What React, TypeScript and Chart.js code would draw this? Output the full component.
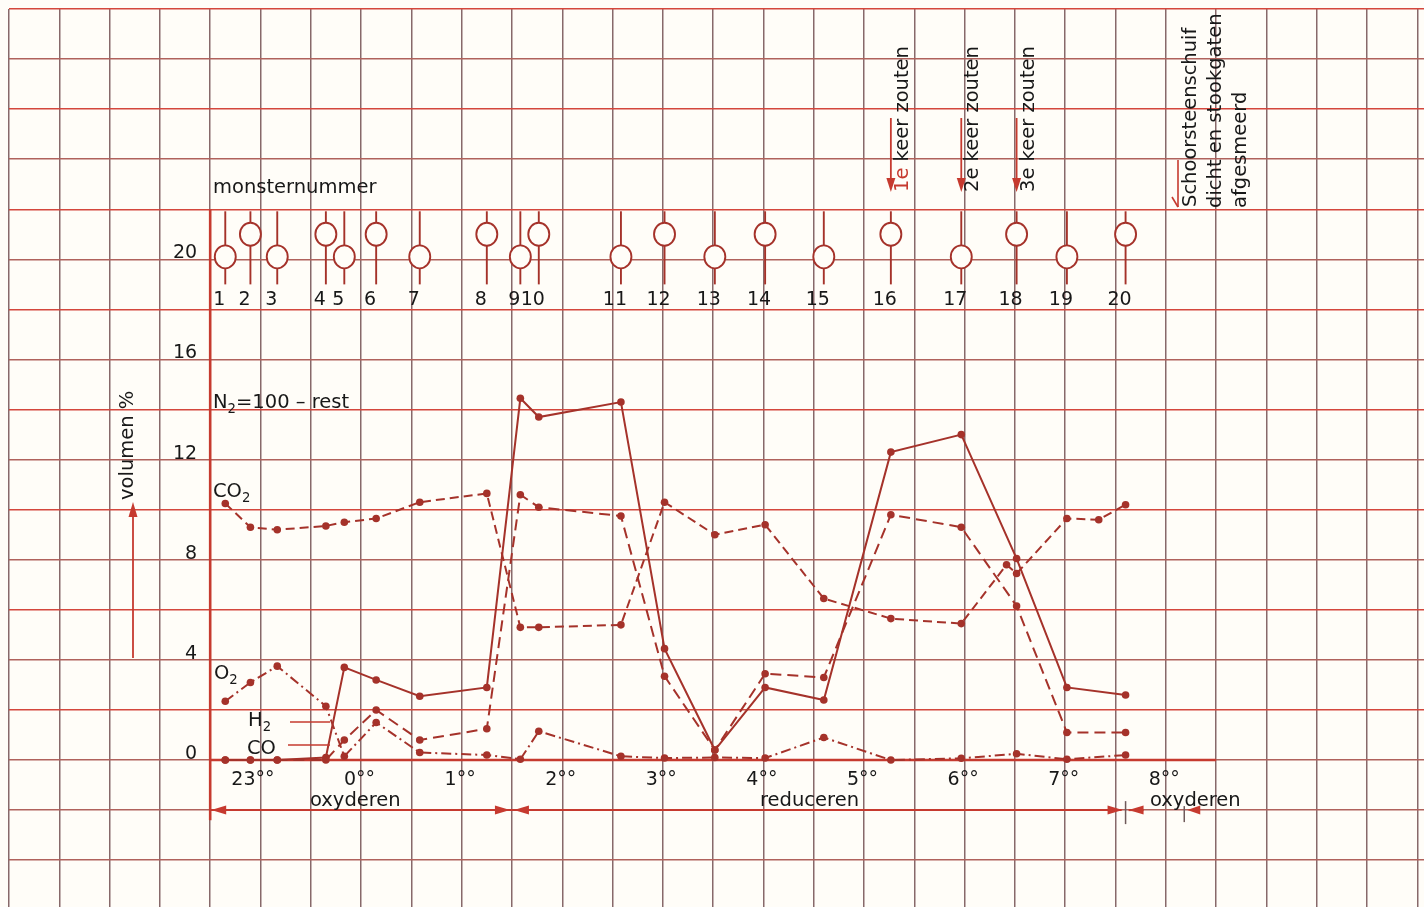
import React, { useEffect, useRef } from 'react';
import { Chart, registerables } from 'chart.js';

Chart.register(...registerables);

// ---- data (time in minutes relative to 0:00, values in volume %) ----
const sampleLabels = ['1', '2', '3', '4', '5', '6', '7', '8', '9', '10', '11', '12', '13', '14', '15', '16', '17', '18', '19', '20'];
const sampleMinutes = [-81, -66, -50, -21, -10, 9, 35, 75, 95, 106, 155, 181, 211, 241, 276, 316, 358, 391, 421, 456];
const sampleRaised = [false, true, false, true, false, true, false, true, false, true, false, true, false, true, false, true, false, true, false, true];

const coValues = [0, 0, 0, 0.1, 3.7, 3.2, 2.55, 2.9, 14.45, 13.7, 14.3, 4.45, 0.4, 2.9, 2.4, 12.3, 13.0, 8.05, 2.9, 2.6];
const h2Values = [0, 0, 0, 0, 0.8, 2.0, 0.8, 1.25, 10.6, 10.1, 9.75, 3.35, 0.4, 3.45, 3.3, 9.8, 9.3, 6.15, 1.1, 1.1];
const o2Values = [2.35, 3.1, 3.75, 2.15, 0.15, 1.5, 0.3, 0.2, 0.03, 1.15, 0.15, 0.08, 0.1, 0.08, 0.9, 0.0, 0.07, 0.25, 0.03, 0.2];
const co2Minutes = [-81, -66, -50, -21, -10, 9, 35, 75, 95, 106, 155, 181, 211, 241, 276, 316, 358, 385, 391, 421, 440, 456];
const co2Values = [10.25, 9.3, 9.2, 9.35, 9.5, 9.65, 10.3, 10.65, 5.3, 5.3, 5.4, 10.3, 9.0, 9.4, 6.45, 5.65, 5.45, 7.8, 7.45, 9.65, 9.6, 10.2];

const hourMinutes = [-60, 0, 60, 120, 180, 240, 300, 360, 420, 480];
const hourLabels = ['23', '0', '1', '2', '3', '4', '5', '6', '7', '8'];
const yTickValues = [0, 4, 8, 12, 16, 20];
const yTickLabels = ['0', '4', '8', '12', '16', '20'];

const saltSamples = [15, 16, 17]; // samples 16, 17, 18
const saltLabels = ['1e', '2e', '3e'];

const LINE = '#a5322a';
const RED = '#c63a2f';
const INK = '#181818';
const PAPER = '#fffdf8';
const FAM = '"DejaVu Sans", "Liberation Sans", sans-serif';
const f = (s: number) => `${s}px ${FAM}`;

function seg(ctx: CanvasRenderingContext2D, x1: number, y1: number, x2: number, y2: number) {
  ctx.beginPath();
  ctx.moveTo(x1, y1);
  ctx.lineTo(x2, y2);
  ctx.stroke();
}

function head(ctx: CanvasRenderingContext2D, tx: number, ty: number, dx: number, dy: number, len: number, half: number) {
  const bx = tx - dx * len, by = ty - dy * len;
  const px = -dy, py = dx;
  ctx.beginPath();
  ctx.moveTo(tx, ty);
  ctx.lineTo(bx + px * half, by + py * half);
  ctx.lineTo(bx - px * half, by - py * half);
  ctx.closePath();
  ctx.fill();
}

function vtext(ctx: CanvasRenderingContext2D, parts: [string, string][], x: number, y: number, size: number) {
  ctx.save();
  ctx.translate(x, y);
  ctx.rotate(-Math.PI / 2);
  ctx.font = f(size);
  ctx.textAlign = 'left';
  ctx.textBaseline = 'alphabetic';
  let off = 0;
  for (const [t, c] of parts) {
    ctx.fillStyle = c;
    ctx.fillText(t, off, 0);
    off += ctx.measureText(t).width;
  }
  ctx.restore();
}

function subText(ctx: CanvasRenderingContext2D, main: string, sub: string, rest: string, x: number, y: number, size: number) {
  ctx.textAlign = 'left';
  ctx.textBaseline = 'alphabetic';
  ctx.fillStyle = INK;
  ctx.font = f(size);
  ctx.fillText(main, x, y);
  let off = ctx.measureText(main).width;
  ctx.font = f(size * 0.68);
  ctx.fillText(sub, x + off, y + 5);
  off += ctx.measureText(sub).width;
  if (rest) {
    ctx.font = f(size);
    ctx.fillText(rest, x + off, y);
  }
}

const annotate = {
  id: 'annotate',
  beforeDraw(chart: any) {
    const { ctx, width, height } = chart;
    ctx.save();
    ctx.fillStyle = PAPER;
    ctx.fillRect(0, 0, width, height);
    ctx.restore();
  },
  beforeDatasetsDraw(chart: any) {
    const { ctx } = chart;
    const xs = chart.scales.x, ys = chart.scales.y;
    const X = (v: number) => xs.getPixelForValue(v);
    const Y = (v: number) => ys.getPixelForValue(v);
    ctx.save();
    ctx.strokeStyle = RED;
    ctx.lineWidth = 2.6;
    seg(ctx, X(-90), Y(0), X(510), Y(0));
    seg(ctx, X(-90), Y(22), X(-90), Y(-2.4));
    ctx.restore();
  },
  afterDatasetsDraw(chart: any) {
    const { ctx } = chart;
    const xs = chart.scales.x, ys = chart.scales.y;
    const X = (v: number) => xs.getPixelForValue(v);
    const Y = (v: number) => ys.getPixelForValue(v);
    ctx.save();

    // y tick labels
    ctx.font = f(19);
    ctx.fillStyle = INK;
    ctx.textAlign = 'right';
    ctx.textBaseline = 'alphabetic';
    yTickValues.forEach((v, i) => ctx.fillText(yTickLabels[i], X(-90) - 13, Y(v) - 1));

    // hour labels
    ctx.textAlign = 'left';
    hourMinutes.forEach((m, i) => {
      const w = ctx.measureText(hourLabels[i]).width;
      ctx.fillText(hourLabels[i] + '°°', X(m) - 5 - w, Y(0) + 25);
    });

    // sample markers
    sampleMinutes.forEach((m, i) => {
      const x = X(m);
      const cy = Y(sampleRaised[i] ? 21 : 20.1);
      ctx.strokeStyle = LINE;
      ctx.lineWidth = 1.9;
      seg(ctx, x, Y(22) + 2, x, cy - 11.5);
      seg(ctx, x, cy + 11.5, x, Y(19));
      ctx.beginPath();
      ctx.ellipse(x, cy, 10.5, 11.5, 0, 0, Math.PI * 2);
      ctx.fillStyle = PAPER;
      ctx.fill();
      ctx.stroke();
      ctx.fillStyle = INK;
      ctx.font = f(19);
      ctx.textAlign = 'center';
      ctx.fillText(sampleLabels[i], x - 6, Y(19) + 21);
    });

    // salting events
    saltSamples.forEach((si, i) => {
      const x = X(sampleMinutes[si]);
      ctx.strokeStyle = RED;
      ctx.fillStyle = RED;
      ctx.lineWidth = 1.8;
      seg(ctx, x, 118, x, 180);
      head(ctx, x, 192, 0, 1, 14, 4.5);
      vtext(ctx, [[saltLabels[i], i === 0 ? RED : INK], [' keer zouten', INK]], x + 17, 192, 19.5);
    });

    // chimney note
    ctx.strokeStyle = RED;
    ctx.lineWidth = 1.6;
    seg(ctx, 1178, 160, 1178, 207);
    seg(ctx, 1172, 197, 1178, 207);
    vtext(ctx, [['Schoorsteenschuif', INK]], 1196, 207, 19.5);
    vtext(ctx, [['dicht en stookgaten', INK]], 1221, 208, 19.5);
    vtext(ctx, [['afgesmeerd', INK]], 1246, 208, 19.5);

    // y axis title + arrow
    vtext(ctx, [['volumen %', INK]], 133, 500, 19.5);
    ctx.strokeStyle = RED;
    ctx.fillStyle = RED;
    ctx.lineWidth = 1.8;
    seg(ctx, 133, 658, 133, 512);
    head(ctx, 133, 502, 0, -1, 15, 4.5);

    // free labels
    ctx.fillStyle = INK;
    ctx.font = f(19.5);
    ctx.textAlign = 'left';
    ctx.fillText('monsternummer', 213, 193);
    subText(ctx, 'N', '2', '=100 – rest', 213, 408, 19.5);
    subText(ctx, 'CO', '2', '', 213, 497, 19.5);
    subText(ctx, 'O', '2', '', 214, 679, 19.5);
    subText(ctx, 'H', '2', '', 248, 726, 19.5);
    ctx.font = f(19.5);
    ctx.fillText('CO', 247, 754);
    ctx.strokeStyle = RED;
    ctx.lineWidth = 1.6;
    seg(ctx, 290, 722, 330, 722);
    seg(ctx, 288, 745, 330, 745);

    // phase arrows
    const ay = Y(-2);
    ctx.strokeStyle = RED;
    ctx.fillStyle = RED;
    ctx.lineWidth = 2;
    seg(ctx, X(-90), ay, X(456) - 4, ay);
    head(ctx, X(-90) + 1, ay, -1, 0, 15, 4.5);
    head(ctx, X(90) - 2, ay, 1, 0, 15, 4.5);
    head(ctx, X(90) + 2, ay, -1, 0, 15, 4.5);
    head(ctx, X(456) - 3, ay, 1, 0, 15, 4.5);
    seg(ctx, X(456) + 3, ay, X(456) + 18, ay);
    head(ctx, X(456) + 3, ay, -1, 0, 15, 4.5);
    head(ctx, X(491) + 3, ay, -1, 0, 13, 4.5);
    ctx.strokeStyle = '#6f5a5a';
    ctx.lineWidth = 1.5;
    seg(ctx, X(456), ay - 9, X(456), ay + 14);
    seg(ctx, X(491), ay - 4, X(491), ay + 12);

    ctx.fillStyle = INK;
    ctx.font = f(19.5);
    ctx.textAlign = 'left';
    ctx.fillText('oxyderen', 310, 806);
    ctx.fillText('reduceren', 760, 806);
    ctx.fillText('oxyderen', 1150, 806);

    ctx.restore();
  },
};

const pts = (xs: number[], ys: number[]) => xs.map((x, i) => ({ x, y: ys[i] }));

export default function App() {
  const ref = useRef<HTMLCanvasElement | null>(null);
  useEffect(() => {
    if (!ref.current) return;
    const base = {
      borderColor: LINE,
      backgroundColor: LINE,
      borderWidth: 2,
      pointRadius: 3.8,
      pointBackgroundColor: LINE,
      pointBorderWidth: 0,
      tension: 0,
      fill: false,
    };
    const chart = new Chart(ref.current, {
      type: 'line',
      data: {
        datasets: [
          { ...base, label: 'CO2', data: pts(co2Minutes, co2Values), borderDash: [9, 5] },
          { ...base, label: 'O2', data: pts(sampleMinutes, o2Values), borderDash: [10, 4, 2, 4] },
          { ...base, label: 'H2', data: pts(sampleMinutes, h2Values), borderDash: [11, 6] },
          { ...base, label: 'CO', data: pts(sampleMinutes, coValues) },
        ],
      },
      options: {
        animation: false,
        responsive: false,
        devicePixelRatio: 1,
        events: [],
        layout: { autoPadding: false, padding: { left: 9, top: 9, right: 0, bottom: 0 } },
        plugins: { legend: { display: false }, tooltip: { enabled: false } },
        scales: {
          x: {
            type: 'linear',
            min: -210,
            max: 634,
            ticks: { display: false, stepSize: 30, includeBounds: false },
            grid: { color: '#87696a', lineWidth: 1.5, drawTicks: false },
            border: { display: false },
          },
          y: {
            type: 'linear',
            min: -5.87,
            max: 30,
            ticks: { display: false, stepSize: 2, includeBounds: false },
            grid: {
              color: (c: any) => (Math.round(c.tick?.value ?? 0) % 4 === 2 ? '#d4473d' : '#b0625c'),
              lineWidth: 1.5,
              drawTicks: false,
            },
            border: { display: false },
          },
        },
      },
      plugins: [annotate],
    } as any);
    return () => chart.destroy();
  }, []);
  return (
    <div style={{ position: 'fixed', left: 0, top: 0, width: 1424, height: 907, background: PAPER }}>
      <canvas ref={ref} width={1424} height={907} style={{ width: 1424, height: 907, display: 'block' }} />
    </div>
  );
}
